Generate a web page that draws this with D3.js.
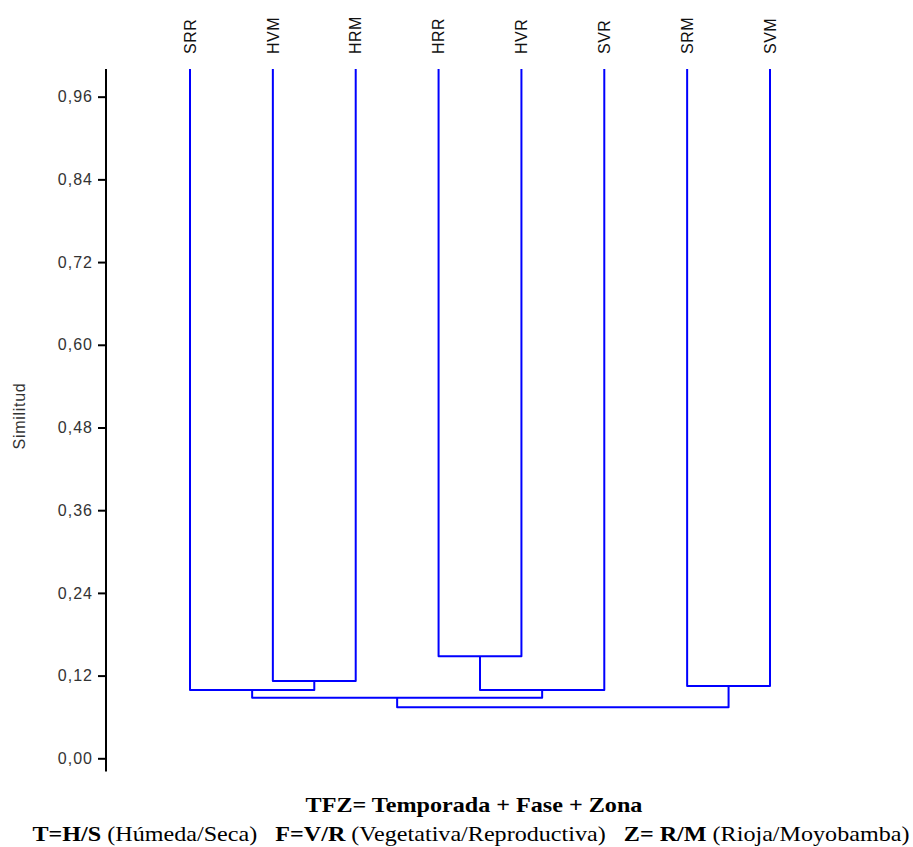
<!DOCTYPE html>
<html>
<head>
<meta charset="utf-8">
<script src="https://cdn.jsdelivr.net/npm/d3@7"></script>
<style>
	body { margin: 0; background: #fff; }
	svg { display: block; }
</style>
</head>
<body>
<svg id="container"></svg>
<script>
// leaf order along the x axis
const leaves = ["SRR", "HVM", "HRM", "HRR", "HVR", "SVR", "SRM", "SVM"];

// merges: [id, left child, right child, similarity]
const merges = [
	["m1", "HVM", "HRM", 0.112],
	["m2", "HRR", "HVR", 0.148],
	["m3", "SRR", "m1", 0.099],
	["m4", "m2", "SVR", 0.099],
	["m5", "SRM", "SVM", 0.105],
	["m6", "m3", "m4", 0.088],
	["m7", "m6", "m5", 0.074]
];

const yTicks = [0, 0.12, 0.24, 0.36, 0.48, 0.60, 0.72, 0.84, 0.96];
const yLabel = "Similitud";
const legendTitle = "TFZ= Temporada + Fase + Zona";
const legendLine = [
	["T=H/S", true], [" (Húmeda/Seca)   ", false],
	["F=V/R", true], [" (Vegetativa/Reproductiva)   ", false],
	["Z= R/M", true], [" (Rioja/Moyobamba)", false]
];

const W = 913, H = 847;
const sans = "'Liberation Sans', Arial, sans-serif";
const svg = d3.select("#container").attr("width", W).attr("height", H);

const x = d3.scalePoint().domain(leaves).range([190, 770]);
const y = d3.scaleLinear().domain([0, 1]).range([758.3, 69.1]);
const leafTop = 1.0;

// y axis
const axis = d3.axisLeft(y)
	.tickValues(yTicks)
	.tickSize(8)
	.tickPadding(5)
	.tickFormat(d => d3.format(".2f")(d).replace(".", ","));

const gY = svg.append("g")
	.attr("transform", "translate(106,0)")
	.call(axis);
gY.select(".domain").remove();
gY.append("line")
	.attr("x1", 0).attr("x2", 0)
	.attr("y1", y(leafTop)).attr("y2", y(-0.019))
	.attr("stroke", "#000").attr("stroke-width", 2);
gY.selectAll(".tick line").attr("stroke", "#000").attr("stroke-width", 2);
gY.selectAll(".tick text")
	.attr("font-family", sans)
	.attr("font-size", 16)
	.attr("letter-spacing", 1)
	.attr("fill", "#333");

svg.append("text")
	.attr("transform", "translate(25,416) rotate(-90)")
	.attr("text-anchor", "middle")
	.attr("font-family", sans)
	.attr("font-size", 16)
	.attr("letter-spacing", 0.7)
	.attr("fill", "#333")
	.text(yLabel);

// node positions
const pos = {};
leaves.forEach(l => { pos[l] = { x: x(l), h: leafTop }; });
merges.forEach(([id, a, b, h]) => {
	pos[id] = { x: (pos[a].x + pos[b].x) / 2, h: h };
});

const lineGen = d3.line();
const links = svg.append("g")
	.attr("fill", "none")
	.attr("stroke", "#0000ff")
	.attr("stroke-width", 2)
	.attr("stroke-linejoin", "round");

links.selectAll("path")
	.data(merges)
	.join("path")
	.attr("d", ([id, a, b, h]) => lineGen([
		[pos[a].x, y(pos[a].h)],
		[pos[a].x, y(h)],
		[pos[b].x, y(h)],
		[pos[b].x, y(pos[b].h)]
	]));

// leaf labels
svg.append("g")
	.selectAll("text")
	.data(leaves)
	.join("text")
	.attr("transform", d => "translate(" + x(d) + ",54) rotate(-90)")
	.attr("dy", "0.36em")
	.attr("font-family", sans)
	.attr("font-size", 16)
	.attr("letter-spacing", 0.5)
	.attr("fill", "#111")
	.text(d => d);

// caption under the chart
const cap1 = svg.append("text")
	.attr("x", 0).attr("y", 0)
	.attr("text-anchor", "middle")
	.attr("font-family", "'Times New Roman', 'Liberation Serif', serif")
	.attr("font-weight", "bold")
	.attr("font-size", 21)
	.attr("fill", "#000")
	.text(legendTitle);
const w1 = cap1.node().getComputedTextLength();
cap1.attr("transform", "translate(474,812) scale(" + (337 / w1) + ",1)");

const cap2 = svg.append("text")
	.attr("x", 0).attr("y", 0)
	.attr("text-anchor", "middle")
	.attr("font-family", "'Times New Roman', 'Liberation Serif', serif")
	.attr("font-size", 21)
	.attr("fill", "#000")
	.style("white-space", "pre");
cap2.selectAll("tspan")
	.data(legendLine)
	.join("tspan")
	.attr("font-weight", d => d[1] ? "bold" : "normal")
	.text(d => d[0]);
const w2 = cap2.node().getComputedTextLength();
cap2.attr("transform", "translate(471,841) scale(" + (877 / w2) + ",1)");
</script>
</body>
</html>
